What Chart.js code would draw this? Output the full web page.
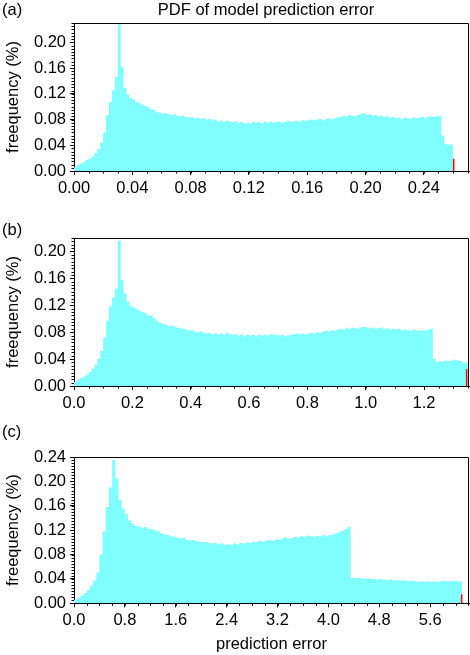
<!DOCTYPE html>
<html><head><meta charset="utf-8">
<script src="https://cdn.jsdelivr.net/npm/chart.js@4.4.1/dist/chart.umd.min.js"></script>
<style>
html,body{margin:0;padding:0;background:#fff;width:470px;height:655px;overflow:hidden}
canvas{position:absolute;left:0}
</style></head><body>
<canvas id="ca" width="470" height="200" style="top:0px"></canvas>
<canvas id="cb" width="470" height="215" style="top:200px"></canvas>
<canvas id="cc" width="470" height="240" style="top:415px"></canvas>
<script>
// ---- data (histogram bin frequencies, %) ----
const titleText = 'PDF of model prediction error';
const yTitle = 'freequency (%)';
const xTitle = 'prediction error';
const panelLabels = ['(a)', '(b)', '(c)'];

const binWidthA = 0.002;
const freqA = [
 0.002,0.006,0.009,0.012,0.014,0.017,0.020,0.023,0.028,0.034,
 0.044,0.060,0.087,0.107,0.125,0.146,0.228,0.162,0.129,0.119,
 0.113,0.111,0.107,0.106,0.103,0.101,0.099,0.096,0.095,0.092,
 0.091,0.089,0.090,0.088,0.087,0.088,0.086,0.085,0.086,0.084,
 0.083,0.084,0.082,0.083,0.081,0.082,0.080,0.081,0.079,0.080,
 0.077,0.078,0.076,0.078,0.077,0.076,0.077,0.075,0.076,0.074,
 0.075,0.074,0.076,0.075,0.076,0.074,0.076,0.075,0.077,0.075,
 0.076,0.077,0.075,0.076,0.078,0.076,0.077,0.078,0.077,0.079,
 0.078,0.079,0.080,0.079,0.080,0.081,0.079,0.081,0.082,0.080,
 0.082,0.083,0.084,0.086,0.085,0.087,0.086,0.085,0.087,0.088,
 0.090,0.087,0.088,0.086,0.087,0.085,0.086,0.084,0.085,0.083,
 0.084,0.082,0.083,0.081,0.083,0.082,0.081,0.083,0.082,0.083,
 0.084,0.082,0.084,0.085,0.084,0.086,0.085,0.055,0.042,0.041
];
const binWidthB = 0.01;
const freqB = [
 0.002,0.006,0.009,0.012,0.014,0.017,0.021,0.026,0.032,0.040,
 0.052,0.072,0.097,0.118,0.131,0.145,0.216,0.158,0.138,0.126,
 0.119,0.117,0.115,0.112,0.110,0.108,0.104,0.105,0.101,0.097,
 0.094,0.092,0.091,0.089,0.090,0.088,0.087,0.086,0.085,0.084,
 0.082,0.083,0.081,0.080,0.081,0.079,0.078,0.079,0.077,0.078,
 0.077,0.078,0.076,0.079,0.077,0.076,0.077,0.075,0.076,0.074,
 0.076,0.075,0.076,0.074,0.076,0.075,0.076,0.075,0.077,0.076,
 0.076,0.075,0.076,0.074,0.075,0.076,0.077,0.078,0.077,0.078,
 0.077,0.078,0.079,0.078,0.080,0.079,0.081,0.082,0.081,0.083,
 0.082,0.084,0.085,0.084,0.086,0.085,0.087,0.086,0.085,0.087,
 0.088,0.087,0.086,0.087,0.085,0.086,0.087,0.085,0.086,0.084,
 0.085,0.084,0.085,0.083,0.084,0.083,0.082,0.084,0.083,0.082,
 0.083,0.082,0.084,0.085,0.040,0.036,0.037,0.036,0.038,0.037,
 0.038,0.039,0.038,0.037,0.035
];
const binWidthC = 0.05;
const freqC = [
 0.002,0.006,0.009,0.013,0.017,0.022,0.029,0.037,0.050,0.080,
 0.118,0.158,0.190,0.235,0.205,0.170,0.155,0.146,0.136,0.131,
 0.127,0.126,0.124,0.125,0.122,0.121,0.120,0.118,0.115,0.113,
 0.112,0.110,0.109,0.108,0.106,0.107,0.104,0.103,0.104,0.102,
 0.101,0.100,0.101,0.099,0.098,0.099,0.097,0.098,0.096,0.097,
 0.096,0.098,0.097,0.099,0.098,0.100,0.099,0.101,0.100,0.102,
 0.101,0.103,0.104,0.102,0.105,0.104,0.106,0.108,0.106,0.107,
 0.109,0.108,0.110,0.109,0.111,0.110,0.109,0.111,0.110,0.112,
 0.110,0.112,0.113,0.115,0.117,0.119,0.122,0.125,
 0.042,0.041,0.042,0.041,0.040,0.041,0.040,0.040,0.039,0.040,0.039,0.038,
 0.039,0.038,0.038,0.037,0.038,0.037,0.036,0.037,0.036,0.035,
 0.036,0.035,0.036,0.035,0.036,0.035,0.036,0.037,0.036,0.036,0.037,0.036
];
// outlier markers (red)
const redA = {x: 0.2605, h: 0.019};
const redB = {x: 1.346, h: 0.025};
const redC = {x: 6.095, h: 0.015};

const FONT = "'Liberation Sans', Arial, Helvetica, sans-serif";
Chart.defaults.font.family = FONT;

function stepPoints(freq, w) {
  const pts = freq.map((v, i) => ({x: i * w, y: v}));
  pts.push({x: freq.length * w, y: freq[freq.length - 1]});
  return pts;
}

const decor = {
  id: 'decor',
  afterDraw(chart, args, o) {
    const {ctx, chartArea: a, scales: {x, y}} = chart;
    ctx.save();
    ctx.strokeStyle = '#000';
    ctx.lineWidth = 1;
    ctx.beginPath();
    for (let k = 0; k * o.xMinor <= x.max + 1e-9; k++) {
      const px = Math.round(x.getPixelForValue(k * o.xMinor)) + 0.5;
      ctx.moveTo(px, a.bottom); ctx.lineTo(px, a.bottom + 2.5);
    }
    for (let k = 0; k * o.yMinor <= y.max + 1e-9; k++) {
      const py = Math.round(y.getPixelForValue(k * o.yMinor)) + 0.5;
      ctx.moveTo(a.left, py); ctx.lineTo(a.left - 2.5, py);
    }
    ctx.stroke();
    // frame
    ctx.beginPath();
    ctx.moveTo(Math.round(a.left) + 0.5, Math.round(a.top) + 0.5);
    ctx.lineTo(Math.round(a.right) - 0.5, Math.round(a.top) + 0.5);
    ctx.lineTo(Math.round(a.right) - 0.5, Math.round(a.bottom) + 0.5);
    ctx.stroke();
    // texts
    ctx.fillStyle = '#000';
    ctx.font = '16.5px ' + FONT;
    ctx.textBaseline = 'alphabetic';
    ctx.textAlign = 'left';
    ctx.fillText(o.label, o.labelX, o.labelY);
    if (o.title) {
      ctx.textAlign = 'center';
      ctx.fillText(o.title, o.titleX, o.titleY);
    }
    ctx.restore();
  }
};

function makePanel(id, c) {
  return new Chart(document.getElementById(id), {
    type: 'line',
    data: {datasets: [
      {data: stepPoints(c.freq, c.bw), stepped: 'after', fill: 'origin', order: 1,
       backgroundColor: '#80FFFF', borderColor: 'rgba(0,0,0,0)', borderWidth: 0,
       pointRadius: 0, tension: 0},
      {data: [{x: c.red.x, y: 0}, {x: c.red.x, y: c.red.h}], borderColor: '#FF0000', order: 0,
       borderWidth: 1.5, pointRadius: 0, fill: false}
    ]},
    options: {
      responsive: false, animation: false, events: [],
      layout: {padding: {left: 0, right: 1, top: c.top, bottom: c.padBottom}},
      plugins: {legend: {display: false}, tooltip: {enabled: false}, title: {display: false},
        decor: {xMinor: c.xMinor, yMinor: 0.005, label: c.label, labelX: 2, labelY: c.labelY,
                title: c.title, titleX: 266, titleY: 15}},
      scales: {
        x: {type: 'linear', min: 0, max: c.xMax,
          ticks: {stepSize: c.xStep, includeBounds: false, autoSkip: false, maxRotation: 0,
                  color: '#000', padding: 5, font: {size: 16.5, lineHeight: 1},
                  callback: v => Number(v).toFixed(c.xDec)},
          grid: {display: true, drawOnChartArea: false, drawTicks: true, tickLength: 4, color: '#000', lineWidth: 1},
          border: {display: true, color: '#000', width: 1},
          title: {display: !!c.xTitle, text: c.xTitle || '', color: '#000',
                  font: {size: 16.5, lineHeight: 1}, padding: {top: 0, bottom: 0}},
          afterFit: s => { s.height = c.xH; }
        },
        y: {type: 'linear', min: 0, max: c.yMax,
          ticks: {stepSize: 0.04, includeBounds: false, color: '#000', padding: 4,
                  font: {size: 16.5, lineHeight: 1}, callback: v => Number(v).toFixed(2)},
          grid: {display: true, drawOnChartArea: false, drawTicks: true, tickLength: 4, color: '#000', lineWidth: 1},
          border: {display: true, color: '#000', width: 1},
          title: {display: true, text: yTitle, color: '#000',
                  font: {size: 16.5, lineHeight: 1}, padding: {top: 5, bottom: 0}},
          afterFit: s => { s.width = 74; }
        }
      }
    },
    plugins: [decor]
  });
}

makePanel('ca', {freq: freqA, bw: binWidthA, red: redA, xMax: 0.271, xStep: 0.04, xMinor: 0.01, xDec: 2,
  yMax: 0.23, top: 23, padBottom: 0, xH: 29, label: panelLabels[0], labelY: 15, title: titleText});
makePanel('cb', {freq: freqB, bw: binWidthB, red: redB, xMax: 1.354, xStep: 0.2, xMinor: 0.05, xDec: 1,
  yMax: 0.22, top: 38, padBottom: 0, xH: 29, label: panelLabels[1], labelY: 35});
makePanel('cc', {freq: freqC, bw: binWidthC, red: redC, xMax: 6.21, xStep: 0.8, xMinor: 0.2, xDec: 1,
  yMax: 0.24, top: 42, padBottom: 2, xH: 49.7, label: panelLabels[2], labelY: 22, xTitle: xTitle});
</script>
</body></html>
